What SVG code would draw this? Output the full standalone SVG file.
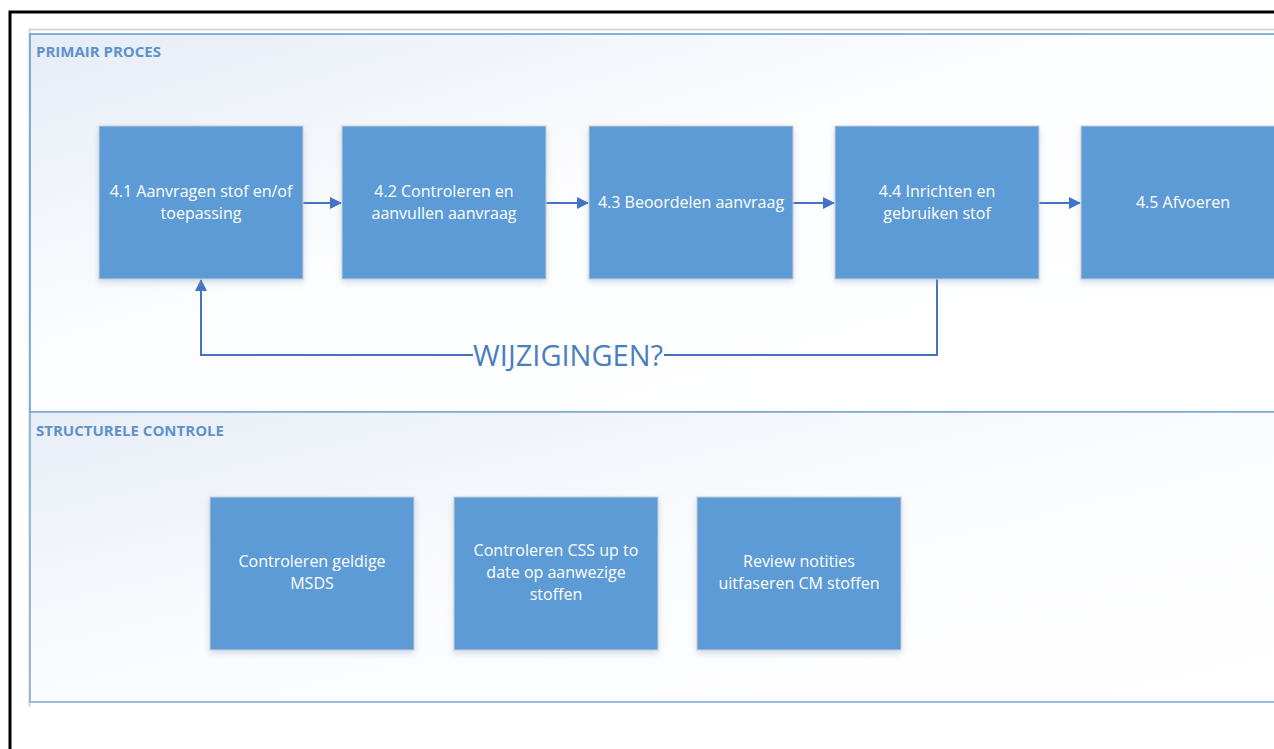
<svg xmlns="http://www.w3.org/2000/svg" width="1274" height="749" viewBox="0 0 1274 749">
<defs>
<linearGradient id="bg" x1="0" y1="0" x2="1" y2="1">
<stop offset="0" stop-color="#E6ECF6"/>
<stop offset="0.45" stop-color="#FDFEFF"/>
<stop offset="1" stop-color="#FFFFFF"/>
</linearGradient>
<linearGradient id="bg2" x1="0" y1="0" x2="1" y2="1">
<stop offset="0" stop-color="#E8EEF7"/>
<stop offset="0.5" stop-color="#FBFCFE"/>
<stop offset="1" stop-color="#FFFFFF"/>
</linearGradient>
<filter id="sh" x="-10%" y="-10%" width="120%" height="125%">
<feDropShadow dx="0" dy="3" stdDeviation="3" flood-color="#7f9cc0" flood-opacity="0.35"/>
</filter>
<marker id="ah" markerWidth="12" markerHeight="12" refX="11" refY="6" orient="auto" markerUnits="userSpaceOnUse" viewBox="0 0 12 12">
<path d="M0,0 L12,6 L0,12 z" fill="#4472C4"/>
</marker>
<style>
.box{fill:#5B9BD5;stroke:#C9CDD3;stroke-width:1;filter:url(#sh)}
.bt{font-family:"Open Sans","Noto Sans",sans-serif;font-size:16px;fill:#FFFFFF;text-anchor:middle}
.title{font-family:"Open Sans","Noto Sans",sans-serif;font-size:15px;font-weight:bold;fill:#5E92CB}
.con{fill:none;stroke:#4472C4;stroke-width:2}
</style>
</defs>
<rect width="1274" height="749" fill="#FFFFFF"/>
<path d="M10,749 V12 H1274" fill="none" stroke="#000" stroke-width="3"/>
<path d="M29.5,707 V29.5 H1274" fill="none" stroke="#D6D6D6" stroke-width="2"/>
<g id="lane1">
<rect x="30" y="34" width="1250" height="378" fill="url(#bg)" stroke="#5B9BD5" stroke-width="1.5"/>
<text class="title" x="36" y="57">PRIMAIR PROCES</text>
</g>
<g id="lane2">
<rect x="30" y="412" width="1250" height="290" fill="url(#bg2)" stroke="#7EA6D3" stroke-width="1.5"/>
<text class="title" x="36" y="436">STRUCTURELE CONTROLE</text>
</g>
<g id="connectors">
<line class="con" x1="303" y1="203" x2="341" y2="203" marker-end="url(#ah)"/>
<line class="con" x1="546" y1="203" x2="588" y2="203" marker-end="url(#ah)"/>
<line class="con" x1="793" y1="203" x2="834" y2="203" marker-end="url(#ah)"/>
<line class="con" x1="1039" y1="203" x2="1080" y2="203" marker-end="url(#ah)"/>
<path class="con" d="M937,279 V355 H664"/>
<path class="con" d="M473,355 H201 V280" marker-end="url(#ah)"/>
<text x="568" y="366" font-family="'Open Sans','Noto Sans',sans-serif" font-size="29" fill="#4A7FBF" text-anchor="middle" textLength="190" lengthAdjust="spacingAndGlyphs">WIJZIGINGEN?</text>
</g>
<g id="n41"><rect class="box" x="99" y="126" width="204" height="153"/><text class="bt" x="201" y="197">4.1 Aanvragen stof en/of</text><text class="bt" x="201" y="219">toepassing</text></g>
<g id="n42"><rect class="box" x="342" y="126" width="204" height="153"/><text class="bt" x="444" y="197">4.2 Controleren en</text><text class="bt" x="444" y="219">aanvullen aanvraag</text></g>
<g id="n43"><rect class="box" x="589" y="126" width="204" height="153"/><text class="bt" x="691" y="208">4.3 Beoordelen aanvraag</text></g>
<g id="n44"><rect class="box" x="835" y="126" width="204" height="153"/><text class="bt" x="937" y="197">4.4 Inrichten en</text><text class="bt" x="937" y="219">gebruiken stof</text></g>
<g id="n45"><rect class="box" x="1081" y="126" width="204" height="153"/><text class="bt" x="1183" y="208">4.5 Afvoeren</text></g>
<g id="s1"><rect class="box" x="210" y="497" width="204" height="153"/><text class="bt" x="312" y="567">Controleren geldige</text><text class="bt" x="312" y="589">MSDS</text></g>
<g id="s2"><rect class="box" x="454" y="497" width="204" height="153"/><text class="bt" x="556" y="556">Controleren CSS up to</text><text class="bt" x="556" y="578">date op aanwezige</text><text class="bt" x="556" y="600">stoffen</text></g>
<g id="s3"><rect class="box" x="697" y="497" width="204" height="153"/><text class="bt" x="799" y="567">Review notities</text><text class="bt" x="799" y="589">uitfaseren CM stoffen</text></g>
</svg>
